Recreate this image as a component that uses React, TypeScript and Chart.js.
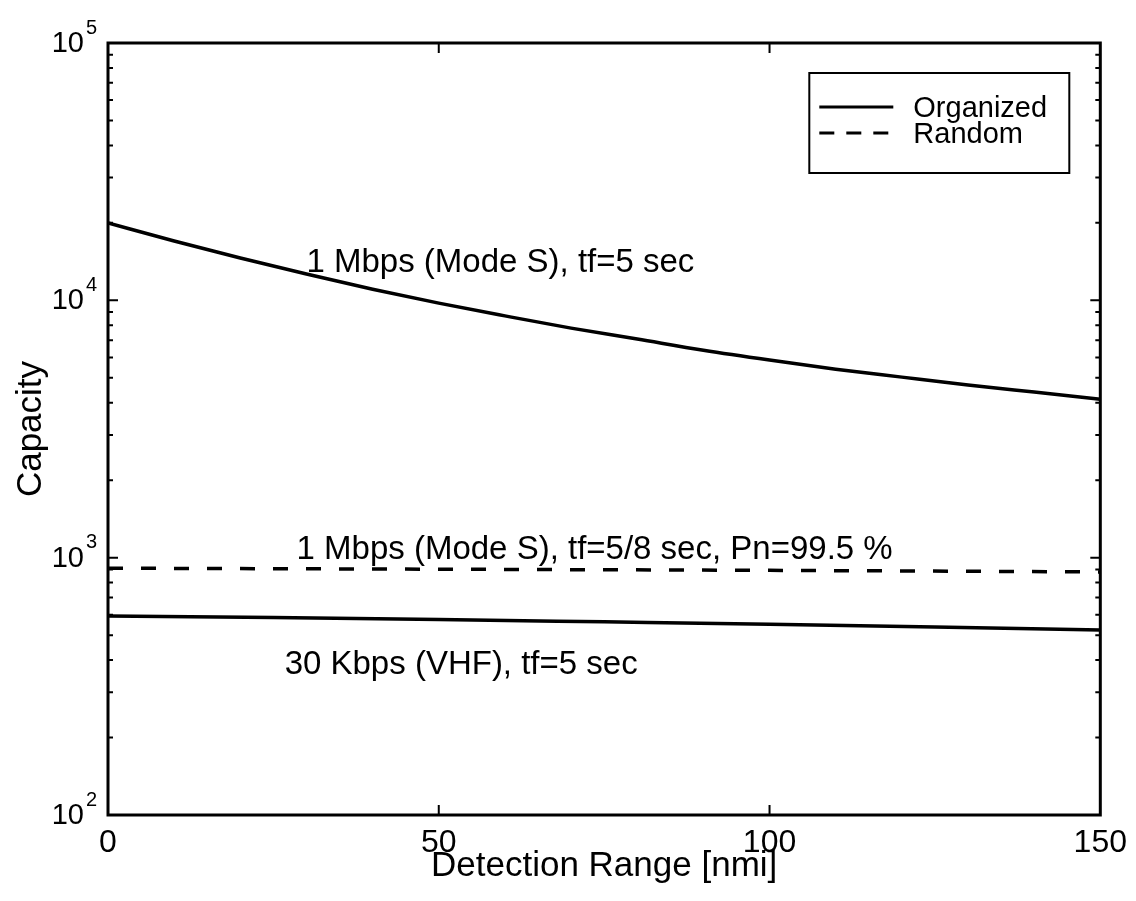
import React, { useEffect, useRef } from "react";
import { Chart, registerables } from "chart.js";

Chart.register(...registerables);

// ---- data ----
const rangeNmi = [0, 10, 20, 30, 40, 50, 60, 70, 80, 90, 100, 110, 120, 130, 140, 150];
const organizedModeS = [20000, 17000, 14600, 12650, 11050, 9750, 8700, 7800, 7070, 6400, 5860, 5400, 5030, 4690, 4400, 4130];

const vhfRange = [0, 25, 50, 75, 100, 125, 150];
const organizedVHF = [593, 585, 575, 563, 551, 538, 523];

const randomRange = [0, 50, 100, 150];
const randomModeS = [910, 902, 893, 880];

const xTickValues = [0, 50, 100, 150];
const yTickValues = [100, 1000, 10000, 100000];
const yTickBases = ["10", "10", "10", "10"];
const yTickExponents = ["2", "3", "4", "5"];

const annotationTexts = [
  "1 Mbps (Mode S), tf=5 sec",
  "1 Mbps (Mode S), tf=5/8 sec, Pn=99.5 %",
  "30 Kbps (VHF), tf=5 sec",
];
const annotationX = [30, 28.5, 26.7];
const annotationY = [13960, 1070, 382];

const legendLabels = ["Organized", "Random"];
const xTitle = "Detection Range [nmi]";
const yTitle = "Capacity";

const FONT = '"Liberation Sans", Arial, Helvetica, sans-serif';

const toPoints = (xs: number[], ys: number[]) => xs.map((x, i) => ({ x, y: ys[i] }));

const decorPlugin = {
  id: "decor",
  afterDraw(chart: any) {
    const ctx = chart.ctx;
    const { left, right, top, bottom } = chart.chartArea;
    const xs = chart.scales.x;
    const ys = chart.scales.y;
    ctx.save();
    ctx.strokeStyle = "#000";
    ctx.fillStyle = "#000";

    // frame
    ctx.lineWidth = 3;
    ctx.setLineDash([]);
    ctx.strokeRect(left, top, right - left, bottom - top);

    // inward y ticks (major + minor) on both sides
    ctx.lineWidth = 2;
    for (let k = 2; k < 5; k++) {
      for (let m = 1; m <= 9; m++) {
        const v = m * Math.pow(10, k);
        if (v <= 100 || v >= 100000) continue;
        const py = ys.getPixelForValue(v);
        const len = m === 1 ? 10 : 5;
        ctx.beginPath();
        ctx.moveTo(left, py);
        ctx.lineTo(left + len, py);
        ctx.moveTo(right, py);
        ctx.lineTo(right - len, py);
        ctx.stroke();
      }
    }
    // inward x ticks
    xTickValues.forEach((v) => {
      if (v === 0 || v === 150) return;
      const px = xs.getPixelForValue(v);
      ctx.beginPath();
      ctx.moveTo(px, bottom);
      ctx.lineTo(px, bottom - 10);
      ctx.moveTo(px, top);
      ctx.lineTo(px, top + 10);
      ctx.stroke();
    });

    // y tick labels with superscript exponents
    yTickValues.forEach((v, i) => {
      const py = ys.getPixelForValue(v);
      ctx.font = `29px ${FONT}`;
      ctx.textAlign = "right";
      ctx.textBaseline = "middle";
      ctx.fillText(yTickBases[i], left - 24, py + 1);
      ctx.font = `20px ${FONT}`;
      ctx.textAlign = "left";
      ctx.fillText(yTickExponents[i], left - 22, py - 15);
    });

    // annotations
    ctx.font = `33px ${FONT}`;
    ctx.textAlign = "left";
    ctx.textBaseline = "middle";
    annotationTexts.forEach((t, i) => {
      ctx.fillText(t, xs.getPixelForValue(annotationX[i]), ys.getPixelForValue(annotationY[i]));
    });

    // legend box
    const lx = right - 291;
    const ly = top + 30;
    const lw = 260;
    const lh = 100;
    ctx.fillStyle = "#fff";
    ctx.fillRect(lx, ly, lw, lh);
    ctx.fillStyle = "#000";
    ctx.lineWidth = 2;
    ctx.strokeRect(lx, ly, lw, lh);
    const rows = [ly + 35, ly + 61];
    legendLabels.forEach((label, i) => {
      ctx.lineWidth = 3;
      ctx.setLineDash(i === 0 ? [] : [15, 12]);
      ctx.beginPath();
      ctx.moveTo(lx + 10, rows[i] - 1);
      ctx.lineTo(lx + 84, rows[i] - 1);
      ctx.stroke();
      ctx.setLineDash([]);
      ctx.font = `29px ${FONT}`;
      ctx.textAlign = "left";
      ctx.textBaseline = "middle";
      ctx.fillText(label, lx + 104, rows[i] + 1);
    });
    ctx.restore();
  },
};

export default function App() {
  const ref = useRef<HTMLCanvasElement | null>(null);

  useEffect(() => {
    if (!ref.current) return;
    const chart = new Chart(ref.current, {
      type: "line",
      data: {
        datasets: [
          {
            label: "Organized 1 Mbps",
            data: toPoints(rangeNmi, organizedModeS),
            borderColor: "#000",
            borderWidth: 3.5,
            pointRadius: 0,
            cubicInterpolationMode: "monotone",
          },
          {
            label: "Random 1 Mbps",
            data: toPoints(randomRange, randomModeS),
            borderColor: "#000",
            borderWidth: 3.5,
            borderDash: [15, 18],
            pointRadius: 0,
          },
          {
            label: "Organized 30 Kbps",
            data: toPoints(vhfRange, organizedVHF),
            borderColor: "#000",
            borderWidth: 3.5,
            pointRadius: 0,
            cubicInterpolationMode: "monotone",
          },
        ],
      },
      options: {
        animation: false,
        responsive: false,
        maintainAspectRatio: false,
        layout: { padding: { left: 0, top: 43, right: 32, bottom: 0 } },
        plugins: {
          legend: { display: false },
          tooltip: { enabled: false },
          title: { display: false },
        },
        scales: {
          x: {
            type: "linear",
            min: 0,
            max: 150,
            grid: { display: false, drawTicks: false },
            border: { display: false },
            afterBuildTicks: (scale: any) => {
              scale.ticks = xTickValues.map((v) => ({ value: v }));
            },
            afterFit: (scale: any) => {
              scale.height = 86;
            },
            ticks: {
              color: "#000",
              font: { family: FONT, size: 32 },
              padding: 9,
              maxRotation: 0,
              autoSkip: false,
            },
            title: {
              display: true,
              text: xTitle,
              color: "#000",
              font: { family: FONT, size: 35 },
              padding: { top: 0, bottom: 14 },
            },
          },
          y: {
            type: "logarithmic",
            min: 100,
            max: 100000,
            grid: { display: false, drawTicks: false },
            border: { display: false },
            ticks: { display: false },
            afterFit: (scale: any) => {
              scale.width = 108;
            },
            title: {
              display: true,
              text: yTitle,
              color: "#000",
              font: { family: FONT, size: 35 },
              padding: { top: 10, bottom: 0 },
            },
          },
        },
      },
      plugins: [decorPlugin],
    } as any);
    return () => chart.destroy();
  }, []);

  return (
    <div style={{ position: "fixed", left: 0, top: 0, width: 1136, height: 901, background: "#fff" }}>
      <canvas ref={ref} width={1136} height={901} style={{ width: 1136, height: 901, display: "block" }} />
    </div>
  );
}
